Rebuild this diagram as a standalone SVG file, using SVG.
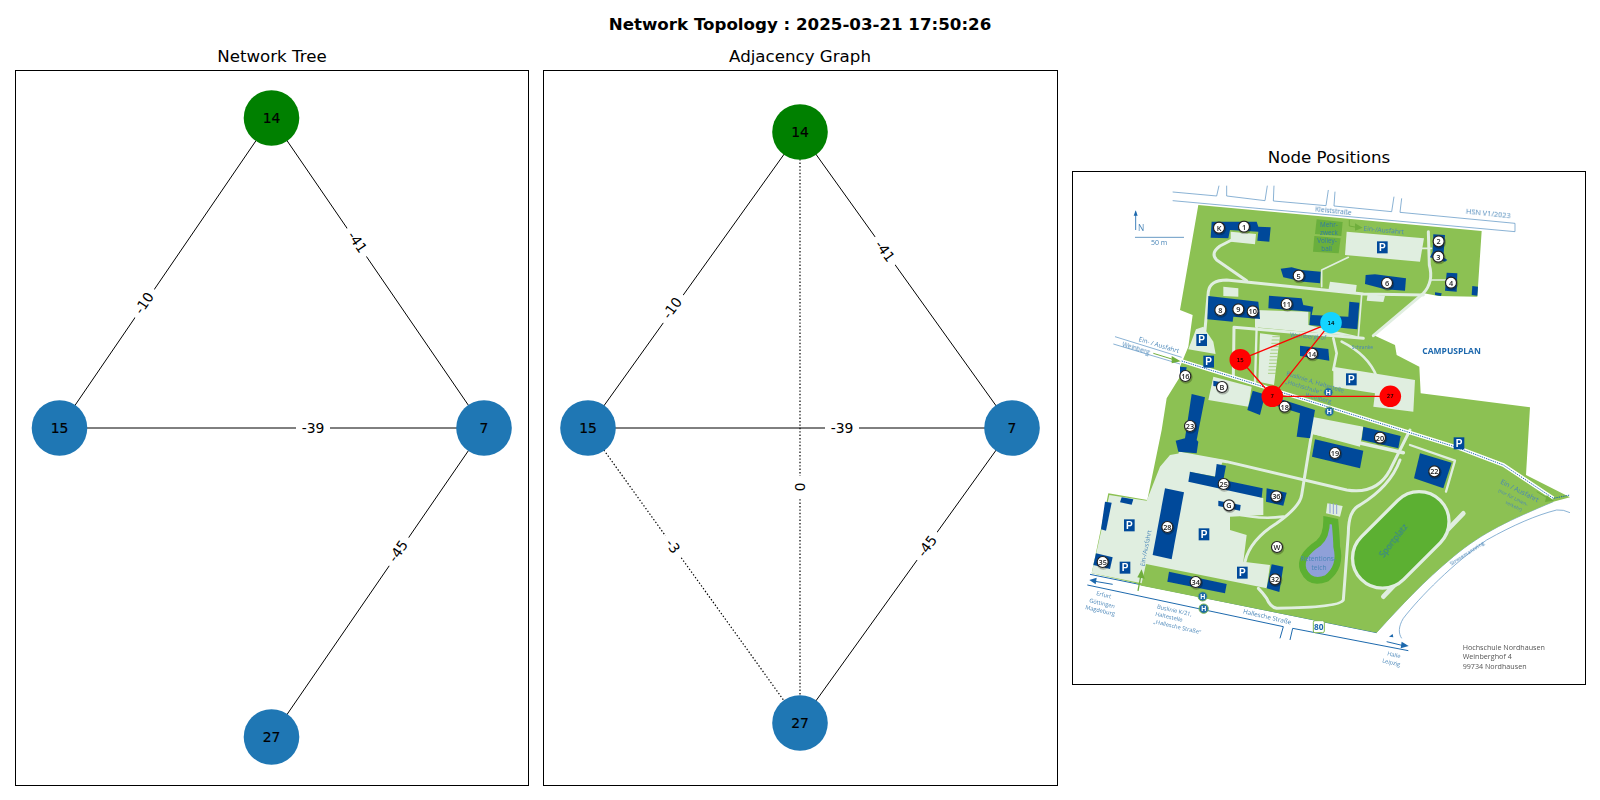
<svg xmlns="http://www.w3.org/2000/svg" width="1600" height="800" viewBox="0 0 1600 800">
<style>
text{font-family:"DejaVu Sans",sans-serif;fill:#000}
.title{font-size:16.67px;text-anchor:middle}
.sup{font-size:16.67px;font-weight:bold;text-anchor:middle}
.frame{fill:#fff;stroke:#000;stroke-width:1}
.edge{stroke:#000;stroke-width:1;fill:none}
.dot{stroke:#000;stroke-width:1.2;stroke-dasharray:1.4 2;fill:none}
.nl{font-size:13.9px;text-anchor:middle;dominant-baseline:central;stroke:#000;stroke-width:.2}
.el{font-size:13.9px;text-anchor:middle;dominant-baseline:central}
.lbg{fill:#fff}
.blue{fill:#1f77b4}.green{fill:#008000}.red{fill:#f00}.cyan{fill:#14d4ff}
.rl{stroke:#f00;stroke-width:1.3;fill:none}
.ml{font-size:5.5px;text-anchor:middle;dominant-baseline:central;stroke:#000;stroke-width:.1}
.g{fill:#8cc152}.lt{fill:#e0eee0}.b{fill:#024a9a}
.rd{fill:none;stroke:#e0eee0;stroke-width:9;stroke-linejoin:round;stroke-linecap:round}
.bl{fill:none;stroke:#5f96c4;stroke-width:2.2}
.bd{fill:none;stroke:#1c68ad;stroke-width:3}
.t text{font-family:"Open Sans",sans-serif;fill:#4a86b8;font-size:20px}
.mc{fill:#fff;stroke:#222;stroke-width:3.5}
.ms{fill:#000;stroke:none;opacity:.25}
.mk text{font-family:"Open Sans",sans-serif;font-size:22px;text-anchor:middle;dominant-baseline:central;fill:#222;font-weight:600}
.ps rect{fill:#024a9a}
.ps text{font-family:"Liberation Sans",sans-serif;font-weight:bold;font-size:30px;fill:#fff;text-anchor:middle;dominant-baseline:central}
.hs circle{fill:#1a68a8;stroke:#7fb850;stroke-width:3}
.hs text{font-family:"Liberation Sans",sans-serif;font-weight:bold;font-size:21px;fill:#fff;text-anchor:middle;dominant-baseline:central}
</style>
<defs>
<filter id="soft" x="-5%" y="-5%" width="110%" height="110%"><feGaussianBlur stdDeviation="0.55"/></filter>
<g id="mb"><circle class="ms" cx="2" cy="3" r="20"/><circle class="mc" r="16.5"/></g>
</defs>
<rect width="1600" height="800" fill="#fff"/>
<text class="sup" x="800" y="30">Network Topology : 2025-03-21 17:50:26</text>

<text class="title" x="272" y="62">Network Tree</text>
<rect class="frame" x="15.5" y="70.5" width="513" height="715"/>
<g id="tree-connectors">
<path class="edge" d="M271.5 118L59.5 428M271.5 118L484 428M59.5 428H484M484 428L271.5 737"/>
<g transform="translate(144 303) rotate(-56)"><rect class="lbg" x="-17" y="-10" width="34" height="20"/><text class="el">-10</text></g>
<g transform="translate(357.5 242) rotate(56)"><rect class="lbg" x="-17" y="-10" width="34" height="20"/><text class="el">-41</text></g>
<g transform="translate(313 428)"><rect class="lbg" x="-17" y="-10" width="34" height="20"/><text class="el">-39</text></g>
<g transform="translate(398 551) rotate(-55)"><rect class="lbg" x="-17" y="-10" width="34" height="20"/><text class="el">-45</text></g>
</g>
<g id="tree-14"><circle class="green" cx="271.5" cy="118" r="27.8"/><text class="nl" x="271.5" y="118">14</text></g>
<g id="tree-15"><circle class="blue" cx="59.5" cy="428" r="27.8"/><text class="nl" x="59.5" y="428">15</text></g>
<g id="tree-7"><circle class="blue" cx="484" cy="428" r="27.8"/><text class="nl" x="484" y="428">7</text></g>
<g id="tree-27"><circle class="blue" cx="271.5" cy="737" r="27.8"/><text class="nl" x="271.5" y="737">27</text></g>

<text class="title" x="800" y="62">Adjacency Graph</text>
<rect class="frame" x="543.5" y="70.5" width="514" height="715"/>
<g id="graph-connectors">
<path class="edge" d="M800 132L588 428M800 132L1012 428M588 428H1012M1012 428L800 723"/>
<path class="dot" d="M800 132V723M588 428L800 723"/>
<g transform="translate(672 308) rotate(-54)"><rect class="lbg" x="-17" y="-10" width="34" height="20"/><text class="el">-10</text></g>
<g transform="translate(885 251) rotate(54)"><rect class="lbg" x="-17" y="-10" width="34" height="20"/><text class="el">-41</text></g>
<g transform="translate(842 428)"><rect class="lbg" x="-17" y="-10" width="34" height="20"/><text class="el">-39</text></g>
<g transform="translate(927 546) rotate(-54)"><rect class="lbg" x="-17" y="-10" width="34" height="20"/><text class="el">-45</text></g>
<g transform="translate(800 487) rotate(90)"><rect class="lbg" x="-11" y="-10" width="22" height="20"/><text class="el">0</text></g>
<g transform="translate(673 546) rotate(54)"><rect class="lbg" x="-13" y="-10" width="26" height="20"/><text class="el">-3</text></g>
</g>
<g id="graph-14"><circle class="green" cx="800" cy="132" r="27.8"/><text class="nl" x="800" y="132">14</text></g>
<g id="graph-15"><circle class="blue" cx="588" cy="428" r="27.8"/><text class="nl" x="588" y="428">15</text></g>
<g id="graph-7"><circle class="blue" cx="1012" cy="428" r="27.8"/><text class="nl" x="1012" y="428">7</text></g>
<g id="graph-27"><circle class="blue" cx="800" cy="723" r="27.8"/><text class="nl" x="800" y="723">27</text></g>

<text class="title" x="1329" y="163">Node Positions</text>
<rect class="frame" x="1072.5" y="171.5" width="513" height="513"/>

<g id="campus-map" transform="translate(1070 170) scale(.33333)" filter="url(#soft)">
<path class="bl" d="M308 66L440 78L447 47M470 47L470 78L585 92L592 47M612 47L610 93L768 107L775 60M795 65L792 108L965 125L972 80M995 85L990 127L1335 160V185L308 92"/>
<path class="bl" d="M135 500L335 562M130 522L330 582"/>
<path class="bd" d="M52 1245L640 1370L630 1405M668 1375L660 1410M668 1375L1015 1442M60 1213L920 1388"/>
<path class="bl" d="M920 1387C1000 1300 1060 1235 1150 1160S1320 1050 1450 995M995 1405C985 1390 985 1370 1000 1345C1050 1280 1150 1180 1250 1110C1330 1065 1400 1035 1460 1020Q1480 1018 1500 1028"/>
<path class="g" d="M385 105L1235 183L1222 380L1105 378L1062 370L910 495L975 525L980 555L1048 590L1052 670L1380 712L1368 915L1500 982L1450 995C1320 1050 1240 1085 1150 1160C1060 1235 1000 1300 920 1388L215 1247L198 1240L65 1210L115 970L232 990L275 780L290 685L330 620L330 590L355 530L368 435L330 420Z"/>
<path class="lt" d="M830 185L1062 205L1050 275L825 255Z"/>
<path class="lt" d="M482 185L558 192L555 223L482 215Z"/>
<path class="lt" d="M555 420L715 425L715 465L870 500L555 472Z"/>
<path class="lt" d="M570 490L630 497L612 645L565 635Z"/>
<path class="lt" d="M790 590L1035 630L1030 725L910 710L915 670L790 650Z"/>
<path class="lt" d="M400 470L430 515L437 552L355 538L378 478Z"/>
<path class="lt" d="M415 690L430 620L545 650L535 710Z"/>
<path class="lt" d="M780 335L860 345L857 370L775 362Z"/>
<path class="lt" d="M460 350L505 355L505 380L460 378Z"/>
<path class="lt" d="M893 372L945 378L940 396L890 392Z"/>
<path class="lt" d="M118 975L230 992L270 890L300 855L330 850L460 870L440 920L355 905L580 985L580 1035L480 1040L480 1080L530 1095L520 1175L600 1185L590 1255L228 1182L215 1240L65 1210Z"/>
<path class="lt" d="M725 740L880 770L870 830L720 790Z"/>
<path class="rd" d="M530 332L440 270Q420 250 450 228L485 210"/>
<path class="rd" d="M405 480L415 365Q420 330 470 330L880 372L1060 375"/>
<path class="rd" d="M1075 185L1078 285Q1092 335 1060 370L910 497"/>
<path class="rd" style="stroke-width:5" d="M755 300L835 262M755 300V350M875 375L865 500M1085 330H1130M1050 235H1085"/>
<path class="rd" d="M490 620L492 472L880 505"/>
<path class="rd" style="stroke-width:8" d="M815 515Q895 555 920 620M790 505L800 550L790 600"/>
<path class="rd" style="stroke-width:7" d="M560 470L555 640"/>
<path class="rd" d="M330 850L470 875L830 960Q920 975 960 900L1020 780"/>
<path class="rd" d="M725 790L695 975Q690 1010 620 1060Q540 1110 525 1175"/>
<path class="rd" style="stroke-width:8" d="M490 1030Q570 1050 640 1040"/>
<path class="rd" d="M990 870Q960 950 870 1005Q835 1020 835 1090L820 1290Q810 1312 620 1315Q600 1310 590 1285Q580 1270 565 1255"/>
<path class="rd" style="stroke-width:7" d="M1020 825L1155 872L1128 965"/>
<path class="rd" style="stroke-width:11" d="M720 785L1000 848"/>
<path class="rd" style="stroke-width:14" d="M940 1280L1180 1030"/>
<rect x="825" y="1020" width="335" height="180" rx="90" transform="rotate(-45 992 1110)" fill="#5bb030" stroke="#e0eee0" stroke-width="10"/>
<path class="lt" d="M772 1000L818 1008L810 1040L768 1030Z"/>
<path d="M770 1050L795 1055Q800 1110 800 1130Q815 1190 770 1225Q720 1245 700 1200Q685 1160 745 1120Q770 1100 770 1050Z" fill="#8fa0d8" stroke="#5bb030" stroke-width="20"/>
<path d="M740 148L818 156L814 198L735 192Z" fill="#6aaf3c"/><path d="M733 198L812 205L806 250L729 245Z" fill="#6aaf3c"/>
<path d="M335 573L1160 832L1300 885L1450 985" fill="none" stroke="#fff" stroke-width="11"/>
<path d="M335 573L1160 832L1300 885L1450 985L1500 975" fill="none" stroke="#1c68ad" stroke-width="3" stroke-dasharray="4 3"/>
<g class="b">
<path d="M425 155L560 155L565 170L602 172L598 215L562 212L565 185L480 180L475 205L422 203Z"/>
<path d="M632 296L665 292L695 300L752 305L750 340L700 335L640 322Z"/>
<path d="M887 315L915 313L1008 325L1005 362L945 358L885 342Z"/>
<path d="M415 378L565 395L570 447L490 440L488 455L412 448Z"/>
<path d="M597 377L695 385L700 405L730 410L725 435L835 440L838 395L868 398L862 478L718 465L722 425L595 415Z"/>
<path d="M690 527L775 537L778 572L690 558Z"/>
<path d="M548 662L532 720L570 735L580 695L690 730L680 800L720 805L735 720L640 690Z"/>
<path d="M365 672L405 682L380 810L385 815L380 850L325 845L317 812L345 805Z"/>
<path d="M330 590L350 592L345 625L330 620Z"/>
<path d="M430 632L450 636L445 650L430 648Z"/>
<path d="M880 770L992 798L985 835L875 810Z"/>
<path d="M735 808L880 842L870 895L726 860Z"/>
<path d="M1050 850L1145 878L1120 955L1032 925Z"/>
<path d="M440 882L468 887L460 930L578 955L575 983L355 935L360 905L435 920Z"/>
<path d="M590 955L650 968L640 1007L588 995Z"/>
<path d="M445 992L512 1005L510 1022L445 1008Z"/>
<path d="M285 955L342 967L305 1168L248 1155Z"/>
<path d="M297 1205L470 1242L465 1270L292 1235Z"/>
<path d="M605 1183L640 1190L628 1266L590 1255Z"/>
<path d="M78 1150L128 1162L120 1197L70 1185Z"/>
<path d="M105 995L125 998L108 1082L93 1078Z"/>
<path d="M155 982L190 988L185 1004L150 997Z"/>
<path d="M1130 308L1162 310L1160 365L1125 362Z"/>
<path d="M1090 193L1125 195L1120 262L1132 270L1125 275L1080 262L1088 245Z"/>
<path d="M1095 367L1115 370L1113 378L1095 375Z"/>
<path d="M1207 348L1224 350L1222 377L1205 375Z"/>
</g>
<path d="M250 550L315 570" stroke="#6fae3c" stroke-width="3" fill="none"/><path d="M305 558L332 574L305 580Z" fill="#6fae3c"/>
<path d="M838 150V168L860 172" stroke="#6fae3c" stroke-width="3" fill="none"/><path d="M855 160L878 173L855 182Z" fill="#6fae3c"/>
<path d="M204 1263L213 1215" stroke="#6fae3c" stroke-width="4" fill="none"/><path d="M202 1222L215 1198L224 1226Z" fill="#6fae3c"/>
<path d="M1400 965L1440 988" stroke="#6fae3c" stroke-width="3" fill="none"/><path d="M1430 975L1452 992L1425 996Z" fill="#6fae3c"/>
<path d="M75 1234L128 1243" stroke="#1c68ad" stroke-width="3" fill="none"/><path d="M80 1223L58 1230L77 1243Z" fill="#1c68ad"/>
<path d="M950 1415L1000 1427" stroke="#1c68ad" stroke-width="3" fill="none"/><path d="M995 1415L1016 1428L992 1435Z" fill="#1c68ad"/>
<path d="M197 180V125" stroke="#1c68ad" stroke-width="2.5" fill="none"/><path d="M191 137L197 121L203 137Z" fill="#1c68ad"/>
<path d="M195 202H342" stroke="#4a86b8" stroke-width="2.5" fill="none"/>
<path d="M957 1400L970 1402L968 1392Z" fill="#1c68ad"/>
<path d="M790 1000V1032M780 1000V1030M800 1002V1032" stroke="#8fa0d8" stroke-width="3" fill="none"/>
<path stroke="#8cc152" stroke-width="2" fill="none" d="M607 500H630M605 510H628M604 520H627M603 530H626M602 540H625M600 550H623M599 560H622M598 570H621M597 580H620M596 590H619M595 600H618M594 610H617"/>
<g class="ps">
<g transform="translate(937 232)"><rect x="-16" y="-18" width="32" height="36"/><text>P</text></g>
<g transform="translate(395 510)"><rect x="-16" y="-18" width="32" height="36"/><text>P</text></g>
<g transform="translate(416 575)"><rect x="-16" y="-18" width="32" height="36"/><text>P</text></g>
<g transform="translate(844 628)"><rect x="-16" y="-18" width="32" height="36"/><text>P</text></g>
<g transform="translate(1167 820)"><rect x="-16" y="-18" width="32" height="36"/><text>P</text></g>
<g transform="translate(178 1066)"><rect x="-16" y="-18" width="32" height="36"/><text>P</text></g>
<g transform="translate(402 1093)"><rect x="-16" y="-18" width="32" height="36"/><text>P</text></g>
<g transform="translate(165 1193)"><rect x="-16" y="-18" width="32" height="36"/><text>P</text></g>
<g transform="translate(517 1208)"><rect x="-16" y="-18" width="32" height="36"/><text>P</text></g>
</g>
<g class="hs">
<g transform="translate(775 667)"><circle r="14"/><text>H</text></g>
<g transform="translate(778 725)"><circle r="14"/><text>H</text></g>
<g transform="translate(398 1279)"><circle r="14"/><text>H</text></g>
<g transform="translate(401 1316)"><circle r="14"/><text>H</text></g>
</g>
<rect x="730" y="1352" width="33" height="36" rx="5" fill="#fff" stroke="#7fb850" stroke-width="3"/>
<text x="746" y="1379" text-anchor="middle" style="font-family:'Open Sans',sans-serif;font-size:25px;font-weight:bold;fill:#1c68ad">80</text>
<g class="mk">
<g transform="translate(447 173)"><use href="#mb"/><text>K</text></g>
<g transform="translate(522 170)"><use href="#mb"/><text>1</text></g>
<g transform="translate(1106 214)"><use href="#mb"/><text>2</text></g>
<g transform="translate(1105 260)"><use href="#mb"/><text>3</text></g>
<g transform="translate(1143 338)"><use href="#mb"/><text>4</text></g>
<g transform="translate(686 317)"><use href="#mb"/><text>5</text></g>
<g transform="translate(951 339)"><use href="#mb"/><text>6</text></g>
<g transform="translate(451 420)"><use href="#mb"/><text>8</text></g>
<g transform="translate(505 418)"><use href="#mb"/><text>9</text></g>
<g transform="translate(548 424)"><use href="#mb"/><text>10</text></g>
<g transform="translate(650 402)"><use href="#mb"/><text>11</text></g>
<g transform="translate(726 551)"><use href="#mb"/><text>14</text></g>
<g transform="translate(346 618)"><use href="#mb"/><text>16</text></g>
<g transform="translate(456 651)"><use href="#mb"/><text>B</text></g>
<g transform="translate(644 710)"><use href="#mb"/><text>18</text></g>
<g transform="translate(360 768)"><use href="#mb"/><text>23</text></g>
<g transform="translate(930 803)"><use href="#mb"/><text>20</text></g>
<g transform="translate(795 849)"><use href="#mb"/><text>19</text></g>
<g transform="translate(1093 904)"><use href="#mb"/><text>22</text></g>
<g transform="translate(461 942)"><use href="#mb"/><text>25</text></g>
<g transform="translate(619 979)"><use href="#mb"/><text>36</text></g>
<g transform="translate(477 1006)"><use href="#mb"/><text>G</text></g>
<g transform="translate(292 1071)"><use href="#mb"/><text>28</text></g>
<g transform="translate(621 1131)"><use href="#mb"/><text>W</text></g>
<g transform="translate(98 1176)"><use href="#mb"/><text>35</text></g>
<g transform="translate(377 1236)"><use href="#mb"/><text>34</text></g>
<g transform="translate(615 1228)"><use href="#mb"/><text>32</text></g>
</g>
<g class="t">
<text x="735" y="125" transform="rotate(6 735 125)">Kleiststraße</text>
<text x="1187" y="132" transform="rotate(6 1187 132)" style="font-size:22px">HSN V1/2023</text>
<text x="880" y="182" transform="rotate(5 880 182)">Ein-/Ausfahrt</text>
<text x="204" y="182" style="font-size:25px">N</text>
<text x="243" y="226" style="font-size:21px">50 m</text>
<text x="1057" y="552" style="font-size:25.5px;font-weight:bold;fill:#1c68ad">CAMPUSPLAN</text>
<text x="205" y="513" transform="rotate(17 205 513)" style="font-size:19px">Ein- / Ausfahrt</text>
<text x="155" y="530" transform="rotate(17 155 530)" style="font-size:19px">Weinberg</text>
<text x="660" y="500" transform="rotate(5 660 500)" style="font-size:18px">Weinberghof</text>
<text x="845" y="536" style="font-size:15px">Schranke</text>
<text x="648" y="616" transform="rotate(17 648 616)" style="font-size:18px">Buslinie A, Haltestelle</text>
<text x="645" y="640" transform="rotate(17 645 640)" style="font-size:18px">„Hochschule"</text>
<text x="705" y="680" transform="rotate(15 705 680)" style="font-size:18px">Weinberg</text>
<text x="1290" y="940" transform="rotate(27 1290 940)" style="font-size:20px">Ein / Ausfahrt</text>
<text x="1284" y="965" transform="rotate(27 1284 965)" style="font-size:14px">(nur für Linien-</text>
<text x="1305" y="1000" transform="rotate(27 1305 1000)" style="font-size:14px">verkehr)</text>
<text x="228" y="1195" transform="rotate(-79 222 1195)" style="font-size:18px">Ein-/Ausfahrt</text>
<text x="942" y="1165" transform="rotate(-52 942 1165)" style="font-size:25px;fill:#2f7aa5">Sportplatz</text>
<text x="745" y="1172" text-anchor="middle" style="font-size:20px">Retentions-</text>
<text x="747" y="1199" text-anchor="middle" style="font-size:20px">teich</text>
<text x="1145" y="1188" transform="rotate(-33 1145 1188)" style="font-size:16px">Stresemannring</text>
<text x="518" y="1330" transform="rotate(13 518 1330)" style="font-size:19px">Hallesche Straße</text>
<text x="260" y="1315" transform="rotate(13 260 1315)" style="font-size:17px">Buslinie K/21,</text>
<text x="255" y="1337" transform="rotate(13 255 1337)" style="font-size:17px">Haltestelle</text>
<text x="250" y="1360" transform="rotate(13 250 1360)" style="font-size:17px">„Hallesche Straße"</text>
<text x="78" y="1275" transform="rotate(13 78 1275)" style="font-size:17px">Erfurt</text>
<text x="57" y="1297" transform="rotate(13 57 1297)" style="font-size:17px">Göttingen</text>
<text x="45" y="1317" transform="rotate(13 45 1317)" style="font-size:17px">Magdeburg</text>
<text x="951" y="1456" transform="rotate(13 951 1456)" style="font-size:17px">Halle</text>
<text x="936" y="1477" transform="rotate(13 936 1477)" style="font-size:17px">Leipzig</text>
<text x="1178" y="1440" style="font-size:21.5px;fill:#555">Hochschule Nordhausen</text>
<text x="1178" y="1468" style="font-size:21.5px;fill:#555">Weinberghof 4</text>
<text x="1178" y="1498" style="font-size:21.5px;fill:#555">99734 Nordhausen</text>
<text x="777" y="172" text-anchor="middle" style="font-size:19px;fill:#2f7aa5">Mehr-</text>
<text x="777" y="195" text-anchor="middle" style="font-size:19px;fill:#2f7aa5">zweck</text>
<text x="771" y="219" text-anchor="middle" style="font-size:19px;fill:#2f7aa5">Volley-</text>
<text x="770" y="244" text-anchor="middle" style="font-size:19px;fill:#2f7aa5">ball</text>
</g>
</g>

<g id="map-connectors"><path class="rl" d="M1331 322.7L1240.3 359.7M1331 322.7L1272.3 396.3M1240.3 359.7L1272.3 396.3M1272.3 396.3H1390.3"/></g>
<g id="map-14"><circle class="cyan" cx="1331" cy="322.7" r="10.8"/><text class="ml" x="1331" y="322.7">14</text></g>
<g id="map-15"><circle class="red" cx="1240.3" cy="359.7" r="10.8"/><text class="ml" x="1240.3" y="359.7">15</text></g>
<g id="map-7"><circle class="red" cx="1272.3" cy="396.3" r="10.8"/><text class="ml" x="1272.3" y="396.3">7</text></g>
<g id="map-27"><circle class="red" cx="1390.3" cy="396.3" r="10.8"/><text class="ml" x="1390.3" y="396.3">27</text></g>
</svg>
